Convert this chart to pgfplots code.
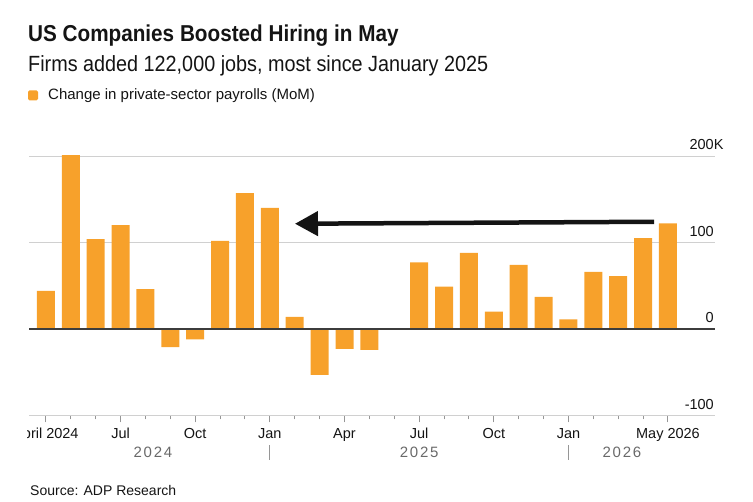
\documentclass[border=0pt]{standalone}
\usepackage{fontspec}
\setmainfont{Liberation Sans}
\newfontfamily\headfont[FakeStretch=0.9]{Liberation Sans}
\newfontfamily\yearfont[LetterSpace=12]{Liberation Sans}
\usepackage{pgfplots}
\usepackage{pgfplotstable}
\pgfplotsset{compat=1.18}
\usetikzlibrary{arrows.meta}

\definecolor{barorange}{RGB}{247,161,43}
\definecolor{gridgray}{RGB}{208,208,208}
\definecolor{zerogray}{RGB}{60,60,60}
\definecolor{tickgray}{RGB}{150,150,150}
\definecolor{yeargray}{RGB}{105,105,105}
\definecolor{inkblack}{RGB}{20,20,20}

% Monthly change in private-sector payrolls, thousands (Apr 2024 = 0)
\pgfplotstableread{
idx  change
0    44
1    201
2    104
3    120
4    46
5    -21
6    -12
7    102
8    157
9    140
10   14
11   -53
12   -23
13   -24
14   -1
15   77
16   49
17   88
18   20
19   74
20   37
21   11
22   66
23   61
24   105
25   122
}\payrolls

\begin{document}
\begin{tikzpicture}[x=1pt,y=1pt]
\useasboundingbox (0,0) rectangle (753,502);

% Headline block
\node[anchor=base west, inner sep=0, text=inkblack] at (28,460)
  {\headfont\bfseries\fontsize{23}{27}\selectfont US Companies Boosted Hiring in May};
\node[anchor=base west, inner sep=0, text=inkblack] at (28,430)
  {\headfont\fontsize{22}{26}\selectfont Firms added 122,000 jobs, most since January 2025};
\fill[barorange, rounded corners=1.5pt] (28,401.5) rectangle (38,411.5);
\node[anchor=base west, inner sep=0, text=inkblack] at (48,402)
  {\fontsize{15}{18}\selectfont Change in private-sector payrolls (MoM)};

\begin{axis}[
  at={(29pt,86.5pt)}, anchor=south west,
  scale only axis, width=686pt, height=263.8pt,
  xmin=-0.68, xmax=26.89, ymin=-100, ymax=205,
  axis x line*=bottom, axis y line*=right,
  x axis line style={draw=gridgray, line width=1pt},
  y axis line style={draw=none},
  ymajorgrids, grid style={draw=gridgray, line width=0.9pt},
  ytick={-100,0,100,200},
  yticklabels={-100,0,100,200\rlap{K}},
  ytick style={draw=none},
  yticklabel style={anchor=south east, inner sep=0pt, xshift=-8pt, yshift=6pt,
    font=\fontsize{14.5}{16}\selectfont, text=inkblack},
  xtick={0,3,6,9,12,15,18,21,25},
  xticklabels={,Jul,Oct,Jan,Apr,Jul,Oct,Jan,May 2026},
  minor xtick={1,2,4,5,7,8,10,11,13,14,16,17,19,20,22,23,24},
  tick align=outside,
  major tick length=7pt, minor tick length=4pt,
  xtick style={draw=tickgray, line width=1pt},
  minor tick style={draw=gridgray, line width=1pt},
  xticklabel style={anchor=base, inner sep=0pt, yshift=-16pt,
    font=\fontsize{14.5}{16}\selectfont, text=inkblack},
  clip=false,
]
\addplot[ybar, bar width=18pt, fill=barorange, draw=none] table[x=idx, y=change] {\payrolls};
\draw[zerogray, line width=1.3pt] (axis cs:-0.68,0) -- (axis cs:26.89,0);

% arrow back to the last comparable month
\draw[inkblack, line width=4.5pt, -{Triangle[length=23pt,width=24pt]}]
  (axis cs:24.44,124) -- (axis cs:10.01,121.7);

% year separators and year names
\draw[tickgray, line width=1pt] ([yshift=-30pt]axis cs:9,-100) -- ([yshift=-45pt]axis cs:9,-100);
\draw[tickgray, line width=1pt] ([yshift=-30pt]axis cs:21,-100) -- ([yshift=-45pt]axis cs:21,-100);
\node[anchor=base, inner sep=0, text=yeargray] at ([yshift=-42pt]axis cs:4.3,-100)
  {\yearfont\fontsize{15}{18}\selectfont 2024};
\node[anchor=base, inner sep=0, text=yeargray] at ([yshift=-42pt]axis cs:15,-100)
  {\yearfont\fontsize{15}{18}\selectfont 2025};
\node[anchor=base, inner sep=0, text=yeargray] at ([yshift=-42pt]axis cs:23.15,-100)
  {\yearfont\fontsize{15}{18}\selectfont 2026};
\coordinate (firstmonth) at ([yshift=-23pt]axis cs:0,-100);
\end{axis}

% first month label is cut at the left edge of the panel
\begin{scope}
  \clip (27,40) rectangle (200,80);
  \node[anchor=base, inner sep=0, text=inkblack] at (firstmonth)
    {\fontsize{14.5}{16}\selectfont April 2024};
\end{scope}

\node[anchor=base west, inner sep=0, text=inkblack] at (30,6)
  {\fontsize{14}{16}\selectfont Source: ADP Research};
\end{tikzpicture}
\end{document}
